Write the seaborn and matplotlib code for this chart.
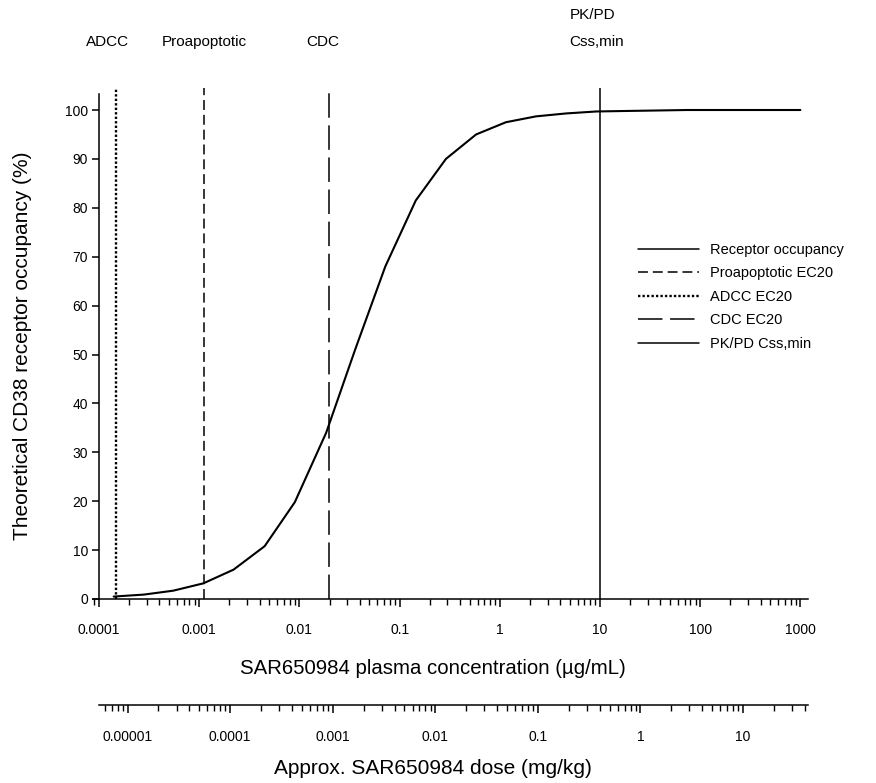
import numpy as np
import pandas as pd
import matplotlib
matplotlib.use("Agg")
import matplotlib.pyplot as plt
import matplotlib.ticker as mticker
from matplotlib.transforms import blended_transform_factory
from matplotlib.lines import Line2D
import seaborn as sns

# ---- data ----
conc = [0.00014, 0.00028, 0.00055, 0.0011, 0.0022, 0.0045, 0.009, 0.0185,
        0.036, 0.072, 0.145, 0.29, 0.58, 1.15, 2.3, 4.6, 9.2, 18, 37, 74,
        150, 300, 600, 1000]
occupancy = [0.5, 0.9, 1.7, 3.2, 6.0, 10.8, 19.8, 34.0, 51.0, 68.0, 81.5,
             90.0, 95.0, 97.5, 98.7, 99.3, 99.7, 99.8, 99.9, 100, 100, 100,
             100, 100]

marker_names = ["ADCC", "Proapoptotic", "CDC", "PK/PD"]
marker_conc = [0.000148, 0.00112, 0.0196, 10.0]
legend_labels = ["Receptor occupancy", "Proapoptotic EC20", "ADCC EC20",
                 "CDC EC20", "PK/PD Css,min"]

conc_ticks = [0.0001, 0.001, 0.01, 0.1, 1, 10, 100, 1000]
conc_ticklabels = ["0.0001", "0.001", "0.01", "0.1", "1", "10", "100", "1000"]
dose_ticks = [0.00001, 0.0001, 0.001, 0.01, 0.1, 1, 10]
dose_ticklabels = ["0.00001", "0.0001", "0.001", "0.01", "0.1", "1", "10"]
y_ticks = list(range(0, 101, 10))

# ---- style ----
sns.set_style("ticks")
plt.rcParams["font.family"] = ["Liberation Sans", "DejaVu Sans"]
plt.rcParams["axes.linewidth"] = 1.1
for k in ["text.color", "axes.labelcolor", "xtick.color", "ytick.color",
          "axes.edgecolor"]:
    plt.rcParams[k] = "black"

W, H = 876, 783
fig = plt.figure(figsize=(W / 100, H / 100), dpi=100)

# main axes (pixel layout)
L, R = 93, 808
B, T = 599, 88
ax = fig.add_axes([L / W, (H - B) / H, (R - L) / W, (B - T) / H])

df = pd.DataFrame({"conc": conc, "occ": occupancy})
sns.lineplot(data=df, x="conc", y="occ", ax=ax, color="black", lw=1.5,
             label=legend_labels[0], legend=False)
ax.set_xscale("log")
ax.set_xlim(10 ** (-4 - 6 / 100.2), 10 ** (-4 + 709 / 100.2))
ax.set_ylim(0, 104.5)

styles = {
    "Proapoptotic": dict(ls=(0, (6.5, 3.2)), lw=1.1),
    "ADCC": dict(ls=(0, (1.0, 0.9)), lw=1.7),
    "CDC": dict(ls=(0, (16, 5)), lw=1.1),
    "PK/PD": dict(ls="-", lw=1.1),
}
for name, c in zip(marker_names, marker_conc):
    ax.axvline(c, color="black", **styles[name])

# spines / ticks
sns.despine(ax=ax)
ax.spines["left"].set_position(("data", 0.0001))
ax.spines["left"].set_bounds(0, 103.3)
ax.set_yticks(y_ticks)
ax.set_yticklabels([str(v) for v in y_ticks])
ax.xaxis.set_major_locator(mticker.FixedLocator(conc_ticks))
ax.xaxis.set_major_formatter(mticker.FixedFormatter(conc_ticklabels))
ax.xaxis.set_minor_locator(mticker.LogLocator(base=10, subs=np.arange(2, 10)))
ax.xaxis.set_minor_formatter(mticker.NullFormatter())
ax.tick_params(axis="x", which="major", length=6, width=1.1, labelsize=10, pad=11)
ax.tick_params(axis="x", which="minor", length=4, width=1.0)
ax.tick_params(axis="y", length=5, width=1.1, labelsize=10, pad=3)
ax.set_xlabel("SAR650984 plasma concentration (µg/mL)", fontsize=14.7)
ax.xaxis.set_label_coords(433 / W, 1 - 669 / H, transform=fig.transFigure)
ax.xaxis.label.set_verticalalignment("center")
ax.set_ylabel("Theoretical CD38 receptor occupancy (%)", fontsize=15)
ax.yaxis.set_label_coords(23 / W, 1 - 346 / H, transform=fig.transFigure)
ax.yaxis.label.set_verticalalignment("center")

# top labels
tr = blended_transform_factory(ax.transData, fig.transFigure)
top_offsets = [-6, 0, -4]
for name, c, off in zip(marker_names[:3], marker_conc[:3], top_offsets):
    ax.annotate(name, xy=(c, 1 - 42 / H), xycoords=tr, xytext=(off, 0),
                textcoords="offset points", ha="center", va="center",
                fontsize=11)
ax.annotate("PK/PD", xy=(marker_conc[3], 1 - 15 / H), xycoords=tr,
            xytext=(-22, 0), textcoords="offset points", ha="left",
            va="center", fontsize=11)
ax.annotate("Css,min", xy=(marker_conc[3], 1 - 42 / H), xycoords=tr,
            xytext=(-22, 0), textcoords="offset points", ha="left",
            va="center", fontsize=11)

# legend
handles = [
    Line2D([], [], color="black", lw=1.1, ls="-"),
    Line2D([], [], color="black", **styles["Proapoptotic"]),
    Line2D([], [], color="black", **styles["ADCC"]),
    Line2D([], [], color="black", **styles["CDC"]),
    Line2D([], [], color="black", **styles["PK/PD"]),
]
fig.legend(handles, legend_labels, loc="upper left",
           bbox_to_anchor=(638 / W, 1 - 243 / H), frameon=False,
           fontsize=10.5, handlelength=4.2, handletextpad=0.75,
           labelspacing=0.65, borderpad=0, borderaxespad=0)

# secondary dose axis
ax2 = fig.add_axes([99 / W, (H - 705) / H, 709 / W, 0.0001])
ax2.set_xscale("log")
ax2.set_xlim(5.26e-6, 43)
ax2.set_yticks([])
for s in ["top", "left", "right"]:
    ax2.spines[s].set_visible(False)
ax2.patch.set_visible(False)
ax2.xaxis.set_major_locator(mticker.FixedLocator(dose_ticks))
ax2.xaxis.set_major_formatter(mticker.FixedFormatter(dose_ticklabels))
ax2.xaxis.set_minor_locator(mticker.LogLocator(base=10, subs=np.arange(2, 10)))
ax2.xaxis.set_minor_formatter(mticker.NullFormatter())
ax2.tick_params(axis="x", which="major", length=6, width=1.1, labelsize=10, pad=12)
ax2.tick_params(axis="x", which="minor", length=4, width=1.0)
ax2.set_xlabel("Approx. SAR650984 dose (mg/kg)", fontsize=15)
ax2.xaxis.set_label_coords(433 / W, 1 - 768 / H, transform=fig.transFigure)
ax2.xaxis.label.set_verticalalignment("center")

fig.savefig("out.png", dpi=100)
